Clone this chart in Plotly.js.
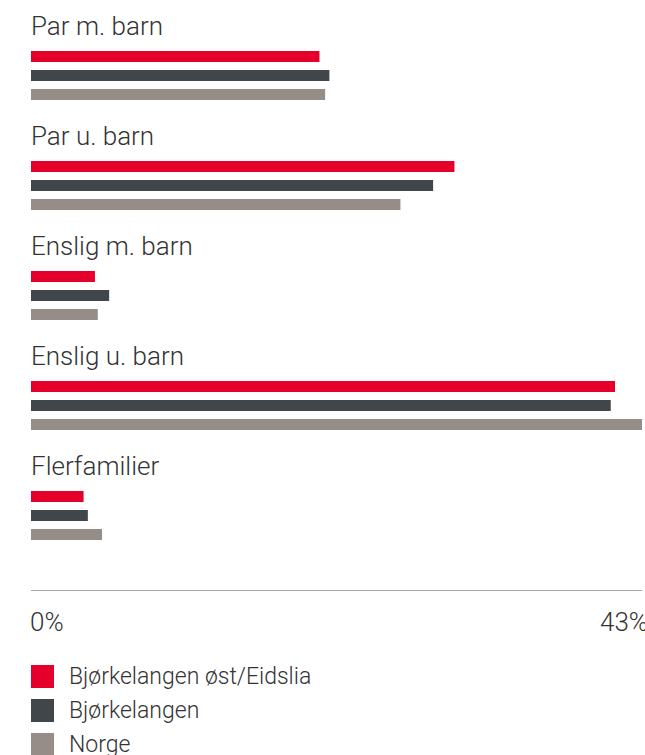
<!DOCTYPE html>
<html>
<head>
<meta charset="utf-8">
<script src="https://cdn.plot.ly/plotly-3.0.1.min.js"></script>
<style>html,body{margin:0;padding:0;background:#fff;}#chart{width:645px;height:755px;}</style>
</head>
<body>
<div id="chart"></div>
<script>
// Data
const categories = ["Par m. barn", "Par u. barn", "Enslig m. barn", "Enslig u. barn", "Flerfamilier"];
const seriesNames = ["Bjørkelangen øst/Eidslia", "Bjørkelangen", "Norge"];
const valuesEidslia = [20.3, 29.8, 4.5, 41.1, 3.7];
const valuesBjorkelangen = [21.0, 28.3, 5.5, 40.8, 4.0];
const valuesNorge = [20.7, 26.0, 4.7, 43.0, 5.0];
const tickVals = [0, 43];
const tickLabels = ["0%", "43%"];

// Styles
const colors = ["#E4002B", "#41464A", "#968D88"];
const W = 645, H = 755;
const M = {l: 31, r: 3, t: 20, b: 165};
const plotW = W - M.l - M.r, plotH = H - M.t - M.b;
const slotPx = 110;
const firstCenterPx = 75.5;
const yTop = -(firstCenterPx - M.t) / slotPx;
const yBottom = yTop + plotH / slotPx;
const px2paperX = px => (px - M.l) / plotW;
const px2paperY = py => (H - M.b - py) / plotH;

const seriesValues = [valuesEidslia, valuesBjorkelangen, valuesNorge];
const yIdx = categories.map((c, i) => i);

const traces = seriesValues.map((vals, k) => ({
  type: 'bar',
  orientation: 'h',
  name: seriesNames[k],
  x: vals,
  y: yIdx,
  marker: {color: colors[k], line: {width: 0}},
  hoverinfo: 'skip',
  showlegend: false
}));

const font = {family: 'Roboto, "Noto Sans", sans-serif', color: '#333333', size: 26, weight: 300};

const annotations = [];
categories.forEach((c, i) => {
  annotations.push({
    text: c, xref: 'paper', yref: 'y', x: 0, y: i, xanchor: 'left', yanchor: 'middle',
    yshift: 50, xshift: -2, showarrow: false, font: font
  });
});
// tick labels
tickVals.forEach((v, i) => {
  annotations.push({
    text: tickLabels[i], xref: 'x', yref: 'paper', x: v, y: px2paperY(622),
    xanchor: i === 0 ? 'left' : 'right', yanchor: 'middle', xshift: i === 0 ? -3 : 8,
    showarrow: false, font: font
  });
});

const shapes = [];
const legendRows = [676.5, 710.5, 744.5];
seriesNames.forEach((n, k) => {
  const cy = legendRows[k];
  shapes.push({
    type: 'rect', xref: 'paper', yref: 'paper',
    x0: px2paperX(31), x1: px2paperX(54), y0: px2paperY(cy + 11.5), y1: px2paperY(cy - 11.5),
    fillcolor: colors[k], line: {width: 0}
  });
  annotations.push({
    text: n, xref: 'paper', yref: 'paper', x: px2paperX(67), y: px2paperY(cy),
    xanchor: 'left', yanchor: 'middle', showarrow: false,
    font: {family: font.family, color: '#333333', size: 23, weight: 300}
  });
});

const layout = {
  width: W, height: H,
  margin: M,
  paper_bgcolor: '#ffffff', plot_bgcolor: '#ffffff',
  barmode: 'group', bargap: 0.482, bargroupgap: 0.421,
  showlegend: false,
  xaxis: {range: [0, 43], showgrid: false, zeroline: false, showticklabels: false, ticks: '',
          showline: true, linecolor: '#a6a6a6', linewidth: 1, fixedrange: true},
  yaxis: {range: [yBottom, yTop], showgrid: false, zeroline: false, showticklabels: false, ticks: '',
          showline: false, fixedrange: true},
  annotations: annotations,
  shapes: shapes
};

Plotly.newPlot('chart', traces, layout, {displayModeBar: false, staticPlot: true});
</script>
</body>
</html>
